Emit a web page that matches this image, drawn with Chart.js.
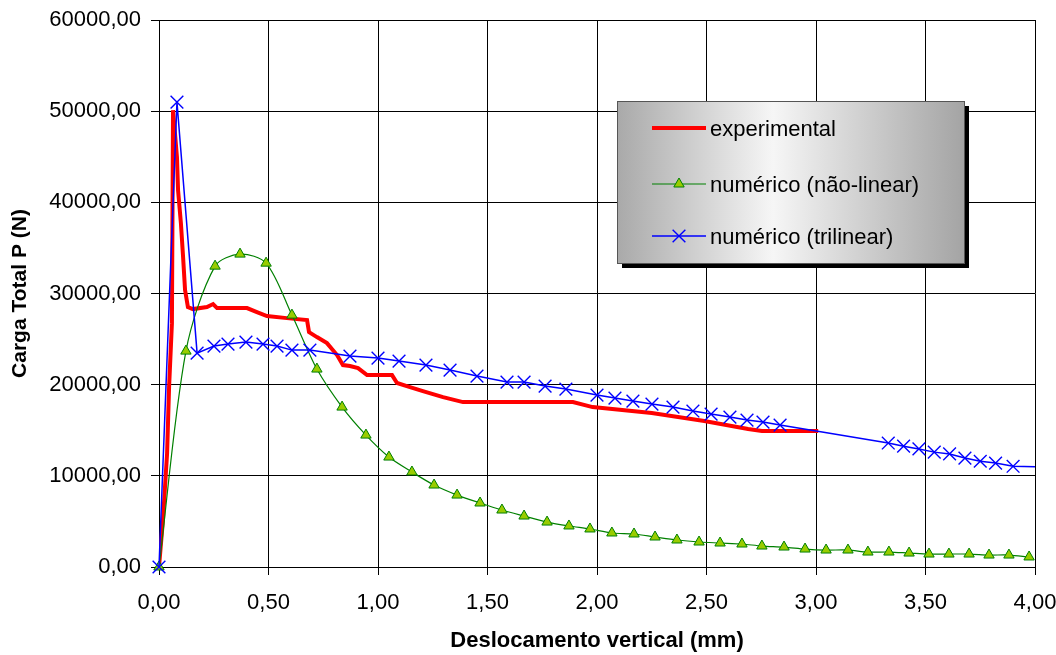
<!DOCTYPE html>
<html>
<head>
<meta charset="utf-8">
<script src="https://cdn.jsdelivr.net/npm/chart.js@4/dist/chart.umd.min.js"></script>
<style>
  html, body { margin: 0; padding: 0; background: #fff; }
  #wrap { width: 1056px; height: 655px; }
</style>
</head>
<body>
<div id="wrap"><canvas id="chart"></canvas></div>
<script>
// experimental
var expX = [0, 0.018, 0.037, 0.046, 0.059, 0.064, 0.082, 0.087, 0.100, 0.110, 0.119, 0.132, 0.155, 0.219, 0.247, 0.265,
  0.402, 0.447, 0.493, 0.584, 0.676, 0.685, 0.721, 0.767, 0.813, 0.840, 0.872, 0.909, 0.950, 1.064, 1.087, 1.146,
  1.205, 1.297, 1.388, 1.890, 1.980, 2.250, 2.490, 2.690, 2.753, 3.010];
var expY = [0, 5150, 12500, 19700, 26750, 50100, 44950, 41340, 37720, 33990, 30370, 28510, 28290, 28510, 28840, 28400,
  28400, 27960, 27520, 27300, 27080, 25770, 25220, 24560, 23250, 22150, 22040, 21820, 21050, 21050, 20180, 19740,
  19300, 18640, 18090, 18090, 17540, 16890, 16010, 15130, 14910, 14910];

// numérico (não-linear)
var nlX = [0, 0.123, 0.256, 0.370, 0.489, 0.607, 0.721, 0.836, 0.945, 1.050, 1.155, 1.256, 1.361, 1.466, 1.566, 1.667,
  1.772, 1.872, 1.968, 2.068, 2.169, 2.265, 2.365, 2.466, 2.562, 2.662, 2.753, 2.854, 2.950, 3.046, 3.146, 3.237,
  3.333, 3.425, 3.516, 3.607, 3.699, 3.790, 3.881, 3.973];
var nlY = [0, 23680, 33000, 34320, 33330, 27630, 21710, 17540, 14470, 12060, 10420, 8990, 7890, 7020, 6250, 5590,
  4930, 4500, 4170, 3730, 3620, 3290, 2960, 2740, 2630, 2520, 2300, 2190, 1970, 1860, 1860, 1640,
  1640, 1530, 1420, 1420, 1420, 1310, 1310, 1100];

// numérico (trilinear)
var triX = [0, 0.082, 0.174, 0.251, 0.315, 0.397, 0.475, 0.539, 0.607, 0.689, 0.872, 1.000, 1.096, 1.219, 1.329, 1.452,
  1.589, 1.667, 1.763, 1.858, 2.000, 2.082, 2.164, 2.251, 2.347, 2.438, 2.521, 2.607, 2.685, 2.758, 2.836,
  3.330, 3.400, 3.470, 3.540, 3.610, 3.680, 3.750, 3.820, 3.900, 4.000];
var triY = [0, 51000, 23460, 24230, 24450, 24670, 24450, 24230, 23790, 23790, 23140, 22920, 22590, 22150, 21600, 20940,
  20290, 20290, 19850, 19520, 18860, 18530, 18200, 17870, 17540, 17110, 16780, 16450, 16120, 15900, 15570,
  13600, 13250, 12950, 12600, 12400, 11950, 11600, 11400, 11050, 11000];

var xTicks = [0, 0.5, 1, 1.5, 2, 2.5, 3, 3.5, 4];
var yTicks = [0, 10000, 20000, 30000, 40000, 50000, 60000];

var seriesNames = ['experimental', 'numérico (não-linear)', 'numérico (trilinear)'];

function pts(xs, ys) {
  return xs.map(function (x, i) { return { x: x, y: ys[i] }; });
}
function fmt(v) {
  return Number(v).toFixed(2).replace('.', ',');
}

var FONT = "'Liberation Sans', Arial, sans-serif";

// legend marker styles (style only)
var legendMarks = [
  null,
  { style: 'triangle', r: 6, fill: '#99cc00', stroke: '#008000', bw: 1 },
  { style: 'crossRot', r: 9, fill: '#0000ff', stroke: '#0000ff', bw: 1.4 }
];

var legendBox = {
  id: 'legendBox',
  afterDatasetsDraw: function (chart) {
    var c = chart.ctx;
    var x = 617, y = 101, w = 347, h = 162;
    c.save();
    c.fillStyle = '#000';
    c.fillRect(x + 5, y + 5, w, h);
    var g = c.createLinearGradient(x, 0, x + w, 0);
    g.addColorStop(0, '#a9a9a9');
    g.addColorStop(0.45, '#f6f6f6');
    g.addColorStop(1, '#a4a4a4');
    c.fillStyle = g;
    c.fillRect(x, y, w, h);
    c.strokeStyle = '#555';
    c.lineWidth = 1;
    c.strokeRect(x + 0.5, y + 0.5, w, h);

    var rows = [128, 184, 236];
    chart.data.datasets.forEach(function (ds, i) {
      var ry = rows[i];
      c.strokeStyle = ds.borderColor;
      c.lineWidth = ds.borderWidth;
      c.beginPath();
      c.moveTo(652, ry);
      c.lineTo(706, ry);
      c.stroke();
      var m = legendMarks[i];
      if (m) {
        c.fillStyle = m.fill;
        c.strokeStyle = m.stroke;
        c.lineWidth = m.bw;
        Chart.helpers.drawPoint(c, { pointStyle: m.style, radius: m.r, borderWidth: m.bw }, 679, ry);
      }
      c.fillStyle = '#000';
      c.font = '22px ' + FONT;
      c.textBaseline = 'middle';
      c.textAlign = 'left';
      c.fillText(seriesNames[i], 710, ry + 2);
    });
    c.restore();
  }
};

var ctx = document.getElementById('chart').getContext('2d');
var myChart = new Chart(ctx, {
  type: 'scatter',
  data: {
    datasets: [
      {
        label: seriesNames[0],
        data: pts(expX, expY),
        showLine: true,
        borderColor: '#ff0000',
        backgroundColor: '#ff0000',
        borderWidth: 4,
        pointRadius: 0,
        tension: 0,
        order: 3
      },
      {
        label: seriesNames[1],
        data: pts(nlX, nlY),
        showLine: true,
        borderColor: '#008000',
        backgroundColor: '#99cc00',
        pointBackgroundColor: '#99cc00',
        pointBorderColor: '#008000',
        borderWidth: 1.2,
        pointStyle: 'triangle',
        pointRadius: 6,
        pointBorderWidth: 1,
        tension: 0.3,
        clip: 10,
        order: 2
      },
      {
        label: seriesNames[2],
        data: pts(triX, triY),
        showLine: true,
        borderColor: '#0000ff',
        backgroundColor: '#0000ff',
        pointBackgroundColor: '#0000ff',
        pointBorderColor: '#0000ff',
        borderWidth: 1.5,
        pointStyle: 'crossRot',
        pointRadius: function (c) { return c.dataIndex === triX.length - 1 ? 0 : 9; },
        pointBorderWidth: 1.4,
        tension: 0,
        clip: 10,
        order: 1
      }
    ]
  },
  options: {
    responsive: true,
    maintainAspectRatio: false,
    animation: false,
    layout: { padding: { top: 20, right: 21, left: 0, bottom: 0 } },
    plugins: {
      legend: { display: false },
      tooltip: { enabled: false }
    },
    scales: {
      x: {
        type: 'linear',
        min: 0,
        max: 4,
        afterFit: function (s) { s.height = 88; s.paddingLeft = 0; s.paddingRight = 0; },
        afterBuildTicks: function (s) { s.ticks = xTicks.map(function (v) { return { value: v }; }); },
        grid: { color: '#000', lineWidth: 1, tickLength: 8, tickColor: '#000' },
        border: { color: '#000', width: 1 },
        ticks: {
          color: '#000',
          padding: 15,
          maxRotation: 0,
          font: { family: FONT, size: 22 },
          callback: function (v) { return fmt(v); }
        },
        title: {
          display: true,
          text: 'Deslocamento vertical (mm)',
          color: '#000',
          font: { family: FONT, size: 22, weight: 'bold' },
          padding: { top: 0, bottom: 1 }
        }
      },
      y: {
        type: 'linear',
        min: 0,
        max: 60000,
        afterFit: function (s) { s.width = 159; s.paddingTop = 0; s.paddingBottom = 0; },
        afterBuildTicks: function (s) { s.ticks = yTicks.map(function (v) { return { value: v }; }); },
        grid: { color: '#000', lineWidth: 1, tickLength: 8, tickColor: '#000' },
        border: { color: '#000', width: 1 },
        ticks: {
          color: '#000',
          padding: 10,
          font: { family: FONT, size: 22 },
          callback: function (v) { return fmt(v); }
        },
        title: {
          display: true,
          text: 'Carga Total P (N)',
          color: '#000',
          font: { family: FONT, size: 21, weight: 'bold' },
          padding: { top: 8, bottom: 0 }
        }
      }
    }
  },
  plugins: [legendBox]
});
</script>
</body>
</html>
